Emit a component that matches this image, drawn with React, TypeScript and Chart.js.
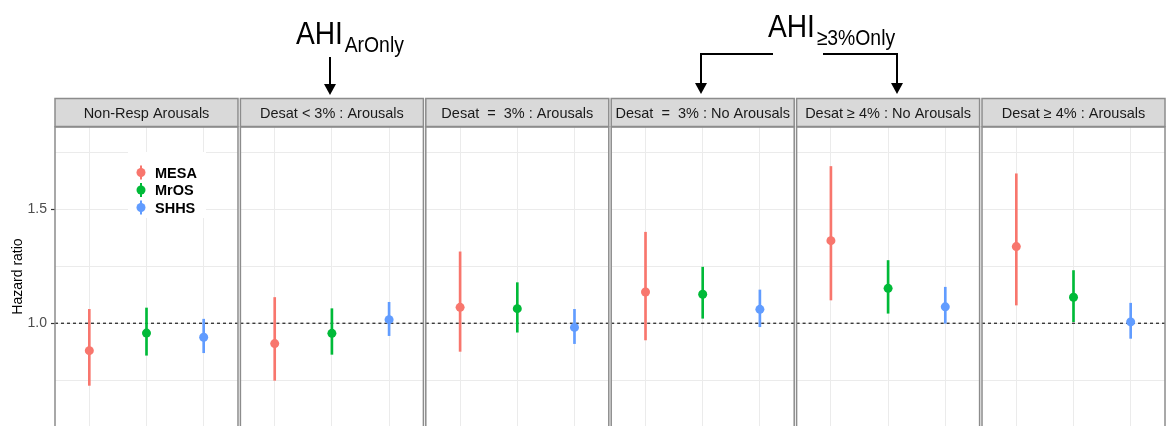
import React, { useEffect, useRef } from 'react';
import { Chart, registerables } from 'chart.js';

Chart.register(...registerables);

// ---------------- data ----------------
const facetLabels = [
  'Non-Resp Arousals',
  'Desat < 3% : Arousals',
  'Desat  =  3% : Arousals',
  'Desat  =  3% : No Arousals',
  'Desat \u2265 4% : No Arousals',
  'Desat \u2265 4% : Arousals',
];
const cohorts = ['MESA', 'MrOS', 'SHHS'];
const cohortColors = ['#F8766D', '#00BA38', '#619CFF'];

const mesaHR = [0.88, 0.911, 1.07, 1.137, 1.362, 1.336];
const mesaLo = [0.728, 0.75, 0.877, 0.927, 1.102, 1.08];
const mesaHi = [1.061, 1.113, 1.313, 1.399, 1.687, 1.655];

const mrosHR = [0.957, 0.956, 1.064, 1.127, 1.153, 1.114];
const mrosLo = [0.86, 0.864, 0.961, 1.022, 1.044, 1.007];
const mrosHi = [1.067, 1.064, 1.178, 1.246, 1.275, 1.231];

const shhsHR = [0.939, 1.016, 0.982, 1.061, 1.072, 1.006];
const shhsLo = [0.871, 0.946, 0.911, 0.985, 1.0, 0.934];
const shhsHi = [1.018, 1.092, 1.061, 1.146, 1.158, 1.088];

const yTickValues = [0.75, 1.0, 1.25, 1.5, 1.75];
const yTickLabels = ['', '1.0', '', '1.5', ''];
const yAxisTitle = 'Hazard ratio';
const referenceLine = 1.0;
const annotationMain = ['AHI', 'AHI'];
const annotationSub = ['ArOnly', '\u22653%Only'];

// ---------------- layout helpers (discrete facet positions) ----------------
const PANEL_UNITS = 3.2; // 3 categories + 0.6 expansion each side
const GAP_UNITS = 0.042;
const panelStart = (p: number) => p * (PANEL_UNITS + GAP_UNITS);
const catPos = (p: number, c: number) => panelStart(p) + 0.6 + c;
const X_MAX = panelStart(facetLabels.length - 1) + PANEL_UNITS;

const hrSeries = [mesaHR, mrosHR, shhsHR];
const loSeries = [mesaLo, mrosLo, shhsLo];
const hiSeries = [mesaHi, mrosHi, shhsHi];

const FONT = '"Liberation Sans", Arial, sans-serif';

function drawArrowDown(ctx: CanvasRenderingContext2D, x: number, tipY: number) {
  ctx.beginPath();
  ctx.moveTo(x, tipY);
  ctx.lineTo(x - 6, tipY - 11);
  ctx.lineTo(x + 6, tipY - 11);
  ctx.closePath();
  ctx.fill();
}

function drawAhi(ctx: CanvasRenderingContext2D, main: string, sub: string, x: number, baseMain: number, baseSub: number) {
  ctx.save();
  ctx.translate(x, 0);
  ctx.scale(0.88, 1);
  ctx.fillStyle = '#000';
  ctx.textBaseline = 'alphabetic';
  ctx.textAlign = 'left';
  ctx.font = `32px ${FONT}`;
  ctx.fillText(main, 0, baseMain);
  const w = ctx.measureText(main).width;
  ctx.font = `22px ${FONT}`;
  ctx.fillText(sub, w + 2, baseSub);
  ctx.restore();
}

const facetPlugin = {
  id: 'facetPlugin',
  beforeDatasetsDraw(chart: any) {
    const { ctx, chartArea, scales } = chart;
    const x = scales.x;
    const y = scales.y;
    ctx.save();
    ctx.fillStyle = '#ffffff';
    for (let p = 0; p < facetLabels.length - 1; p++) {
      const l = x.getPixelForValue(panelStart(p) + PANEL_UNITS);
      const r = x.getPixelForValue(panelStart(p + 1));
      ctx.fillRect(l, chartArea.top, r - l, chartArea.bottom - chartArea.top);
    }
    const yy = y.getPixelForValue(referenceLine);
    ctx.strokeStyle = '#3a3a3a';
    ctx.lineWidth = 1.4;
    ctx.setLineDash([3, 3]);
    for (let p = 0; p < facetLabels.length; p++) {
      const l = x.getPixelForValue(panelStart(p));
      const r = x.getPixelForValue(panelStart(p) + PANEL_UNITS);
      ctx.beginPath();
      ctx.moveTo(l, yy);
      ctx.lineTo(r, yy);
      ctx.stroke();
    }
    ctx.restore();
  },
  afterDraw(chart: any) {
    const { ctx, chartArea, scales } = chart;
    const x = scales.x;
    ctx.save();
    // panel borders and strips
    const stripTop = 98.5;
    const stripBottom = chartArea.top - 0.5;
    for (let p = 0; p < facetLabels.length; p++) {
      const l = x.getPixelForValue(panelStart(p));
      const r = x.getPixelForValue(panelStart(p) + PANEL_UNITS);
      ctx.strokeStyle = '#8c8c8c';
      ctx.lineWidth = 1.5;
      ctx.strokeRect(l, chartArea.top, r - l, chartArea.bottom - chartArea.top + 5);
      ctx.fillStyle = '#d9d9d9';
      ctx.fillRect(l, stripTop, r - l, stripBottom - stripTop);
      ctx.strokeRect(l, stripTop, r - l, stripBottom - stripTop);
      ctx.fillStyle = '#1a1a1a';
      ctx.font = `14.5px ${FONT}`;
      ctx.textAlign = 'center';
      ctx.textBaseline = 'middle';
      ctx.fillText(facetLabels[p], (l + r) / 2, (stripTop + stripBottom) / 2 + 1);
    }

    // legend inside first panel
    ctx.fillStyle = '#ffffff';
    ctx.fillRect(128, 152, 78, 66);
    const rowY = [172.5, 190, 207.5];
    for (let i = 0; i < cohorts.length; i++) {
      ctx.strokeStyle = cohortColors[i];
      ctx.fillStyle = cohortColors[i];
      ctx.lineWidth = 2;
      ctx.beginPath();
      ctx.moveTo(141, rowY[i] - 7);
      ctx.lineTo(141, rowY[i] + 7);
      ctx.stroke();
      ctx.beginPath();
      ctx.arc(141, rowY[i], 4.5, 0, Math.PI * 2);
      ctx.fill();
      ctx.fillStyle = '#000';
      ctx.font = `bold 14.5px ${FONT}`;
      ctx.textAlign = 'left';
      ctx.textBaseline = 'middle';
      ctx.fillText(cohorts[i], 155, rowY[i] + 1);
    }

    // annotations
    ctx.strokeStyle = '#000';
    ctx.fillStyle = '#000';
    ctx.lineWidth = 2;
    ctx.setLineDash([]);
    drawAhi(ctx, annotationMain[0], annotationSub[0], 296, 44, 52);
    ctx.beginPath();
    ctx.moveTo(330, 57);
    ctx.lineTo(330, 86);
    ctx.stroke();
    drawArrowDown(ctx, 330, 95);

    drawAhi(ctx, annotationMain[1], annotationSub[1], 768, 37, 45);
    ctx.beginPath();
    ctx.moveTo(773, 54);
    ctx.lineTo(701, 54);
    ctx.lineTo(701, 84);
    ctx.moveTo(823, 54);
    ctx.lineTo(897, 54);
    ctx.lineTo(897, 84);
    ctx.stroke();
    drawArrowDown(ctx, 701, 94);
    drawArrowDown(ctx, 897, 94);
    ctx.restore();
  },
};

export default function App() {
  const ref = useRef<HTMLCanvasElement | null>(null);

  useEffect(() => {
    document.body.style.margin = '0';
    if (!ref.current) return;

    const datasets: any[] = [];
    cohorts.forEach((name, c) => {
      datasets.push({
        type: 'bar',
        label: name + ' CI',
        data: facetLabels.map((_, p) => ({ x: catPos(p, c), y: [loSeries[c][p], hiSeries[c][p]] })),
        backgroundColor: cohortColors[c],
        borderWidth: 0,
        barThickness: 2,
        grouped: false,
        order: 2,
      });
      datasets.push({
        type: 'scatter',
        label: name,
        data: facetLabels.map((_, p) => ({ x: catPos(p, c), y: hrSeries[c][p] })),
        backgroundColor: cohortColors[c],
        borderWidth: 0,
        pointRadius: 4.5,
        pointHoverRadius: 4.5,
        order: 1,
      });
    });

    const allPositions: number[] = [];
    facetLabels.forEach((_, p) => cohorts.forEach((__, c) => allPositions.push(catPos(p, c))));

    const chart = new Chart(ref.current, {
      type: 'scatter',
      data: { datasets },
      options: {
        responsive: false,
        animation: false,
        events: [],
        layout: { autoPadding: false, padding: { top: 127, right: 1, left: 0, bottom: 0 } },
        plugins: { legend: { display: false }, tooltip: { enabled: false } },
        scales: {
          x: {
            type: 'linear',
            min: 0,
            max: X_MAX,
            offset: false,
            afterBuildTicks: (scale: any) => {
              scale.ticks = allPositions.map((v) => ({ value: v }));
            },
            afterFit: (scale: any) => {
              scale.height = 0;
              scale.paddingLeft = 0;
              scale.paddingRight = 0;
              scale.paddingTop = 0;
              scale.paddingBottom = 0;
            },
            ticks: { display: false },
            grid: { color: '#ebebeb', lineWidth: 1, drawTicks: false, offset: false },
            border: { display: false },
          },
          y: {
            type: 'linear',
            min: 0.55,
            max: 1.86,
            afterBuildTicks: (scale: any) => {
              scale.ticks = yTickValues.map((v) => ({ value: v }));
            },
            afterFit: (scale: any) => {
              scale.width = 55;
              scale.paddingTop = 0;
              scale.paddingBottom = 0;
              scale.paddingLeft = 0;
              scale.paddingRight = 0;
            },
            ticks: {
              callback: (_v: any, i: number) => yTickLabels[i],
              color: '#4d4d4d',
              font: { family: FONT, size: 14 },
              padding: 4,
            },
            grid: {
              color: '#ebebeb',
              lineWidth: 1,
              drawTicks: true,
              tickLength: 4,
              tickWidth: 1.2,
              offset: false,
              tickColor: (ctx: any) => (yTickLabels[ctx.index] ? '#333333' : 'rgba(0,0,0,0)'),
            },
            border: { display: false },
            title: {
              display: true,
              text: yAxisTitle,
              color: '#000',
              font: { family: FONT, size: 14 },
              padding: { top: 10, bottom: 0 },
            },
          },
        },
      },
      plugins: [facetPlugin],
    } as any);

    return () => chart.destroy();
  }, []);

  return <canvas ref={ref} width={1166} height={426} style={{ display: 'block' }} />;
}
